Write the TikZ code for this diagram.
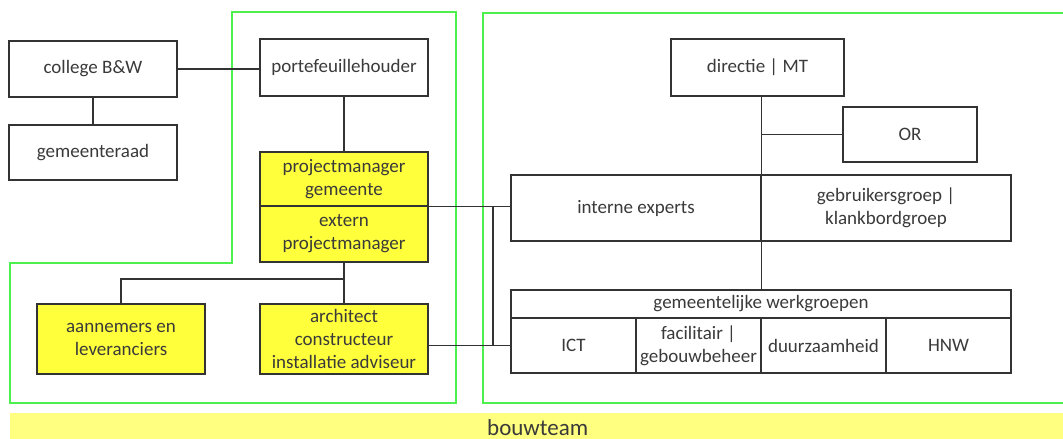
\documentclass[tikz,border=0pt]{standalone}
\usepackage{fontspec}
\setmainfont{Carlito}
\definecolor{linegrey}{HTML}{333333}
\definecolor{textgrey}{HTML}{3A3A3A}
\definecolor{boxyellow}{HTML}{FFFF3C}
\definecolor{baryellow}{HTML}{FFFF80}
\definecolor{zonegreen}{HTML}{4DF04D}
\tikzset{
  box/.style={draw=linegrey, line width=1.3pt, inner sep=0pt, align=center,
    text=textgrey, font=\fontsize{19}{23}\selectfont},
  ybox/.style={box, fill=boxyellow},
  link/.style={draw=linegrey, line width=1.3pt},
  zone/.style={draw=zonegreen, line width=1.6pt}
}
\begin{document}
\begin{tikzpicture}[x=1pt, y=-1pt]
\path[use as bounding box, fill=white] (0,0) rectangle (1063,439);

% green zones
\draw[zone] (232,12) -- (456,12) -- (456,403) -- (10,403) -- (10,263) -- (232,263) -- cycle;
\draw[zone] (1063,13) -- (483,13) -- (483,403) -- (1063,403);

% bottom bar
\fill[baryellow] (10,413) rectangle (1063,439);
\node[anchor=base west, inner sep=0pt, text=textgrey, font=\fontsize{23}{27}\selectfont] (bouwteam) at (487,435) {bouwteam};

% governance boxes
\node[box, minimum width=168, minimum height=56] (college) at (93,69) {college B\&W};
\node[box, minimum width=168, minimum height=55] (raad) at (93,152.5) {gemeenteraad};
\node[box, minimum width=168, minimum height=57] (portef) at (344,67.5) {portefeuillehouder};

% project management
\node[ybox, minimum width=168, minimum height=54] (pmgem) at (344,179) {projectmanager\\gemeente};
\node[ybox, minimum width=168, minimum height=56] (extern) at (344,234) {extern\\projectmanager};
\node[ybox, minimum width=168, minimum height=70] (aannemers) at (121,339) {aannemers en\\leveranciers};
\node[ybox, minimum width=168, minimum height=70] (architect) at (344,339) {architect\\constructeur\\installatie adviseur};

% organisation side
\node[box, minimum width=173, minimum height=57] (directie) at (757.5,67.5) {directie | MT};
\node[box, minimum width=134, minimum height=55] (or) at (910,134.5) {OR};
\node[box, minimum width=250, minimum height=66] (interne) at (636,208) {interne experts};
\node[box, minimum width=250, minimum height=66] (gebruikers) at (886,208) {gebruikersgroep |\\klankbordgroep};
\node[box, minimum width=500, minimum height=28] (wgh) at (761,304) {gemeentelijke werkgroepen};
\node[box, minimum width=125, minimum height=55] (ict) at (573.5,345.5) {ICT};
\node[box, minimum width=125, minimum height=55] (fac) at (698.5,345.5) {facilitair |\\gebouwbeheer};
\node[box, minimum width=125, minimum height=55] (duur) at (823.5,345.5) {duurzaamheid};
\node[box, minimum width=125, minimum height=55] (hnw) at (948.5,345.5) {HNW};

% connectors
\draw[link] (college.east) -- (college.east -| portef.west);
\draw[link] (college.south) -- (raad.north);
\draw[link] (portef.south) -- (pmgem.north);
\draw[link] (extern.south) -- (architect.north);
\coordinate (branch) at (344,279);
\draw[link] (branch) -| (aannemers.north);
\draw[link] (pmgem.south east) -- (pmgem.south east -| interne.west);
\coordinate (riser) at (493,206);
\draw[link] (riser) -- (riser |- ict.west);
\draw[link] (architect.east |- ict.west) -- (ict.west);
\draw[link] (interne.east |- directie.south) -- (interne.east |- wgh.north);
\draw[link] (interne.east |- or.west) -- (or.west);
\end{tikzpicture}
\end{document}
